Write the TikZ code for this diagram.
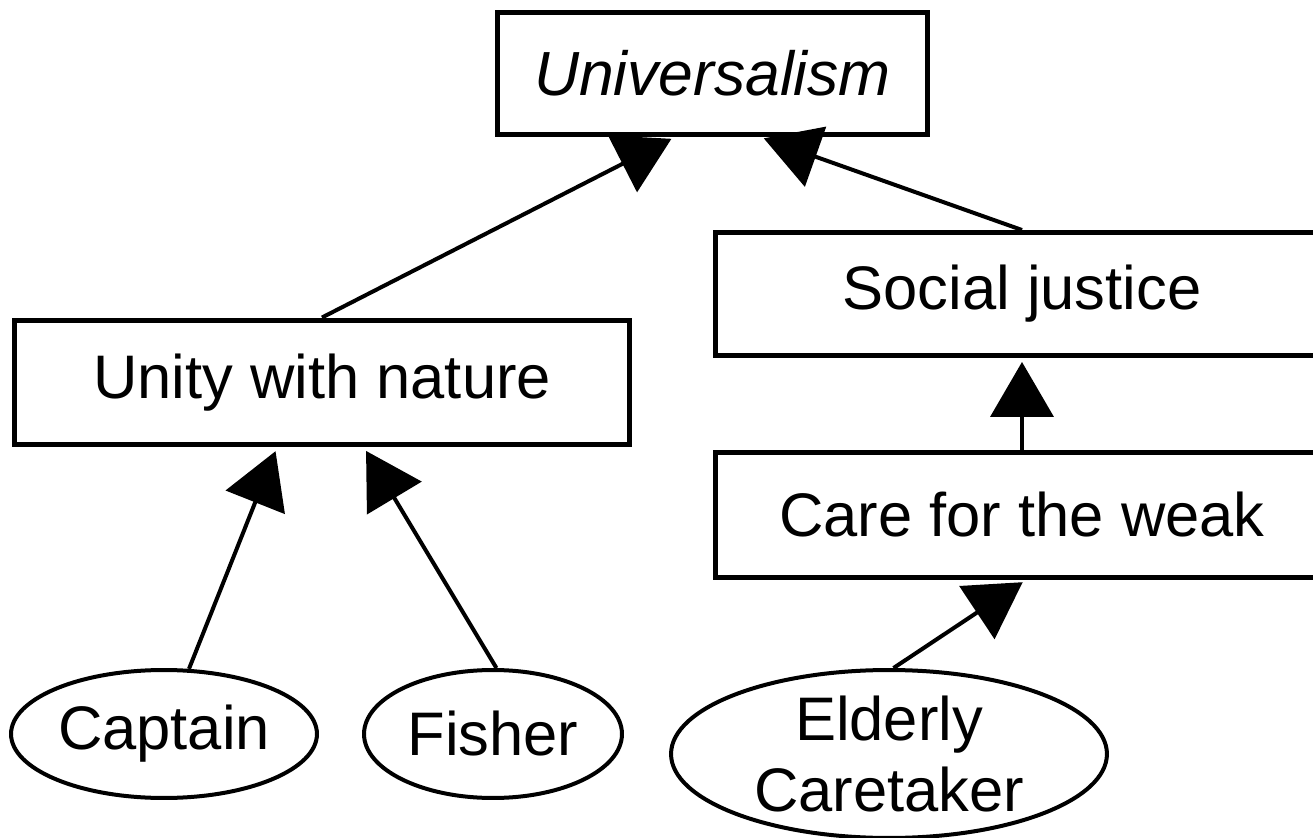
\documentclass[tikz,border=0pt]{standalone}
\usepackage{fontspec}
\setmainfont{Liberation Sans}
\usetikzlibrary{arrows.meta,shapes.geometric}
\begin{document}
\begin{tikzpicture}[x=0.02cm, y=-0.02cm,
  box/.style={draw, rectangle, line width=0.1cm, inner sep=0pt,
    font=\fontsize{35}{40}\selectfont},
  role/.style={draw, ellipse, line width=0.08cm, inner sep=0pt, align=center,
    font=\fontsize{35}{40}\selectfont},
  link/.style={line width=0.08cm, -{Triangle[length=1.1cm,width=1.26cm]},
    shorten >=0.08cm}]
\useasboundingbox (0,0) rectangle (1313,838);

% value boxes
\node[box, minimum width=8.6cm, minimum height=2.44cm,
  font=\fontsize{35.5}{40}\selectfont\itshape] (univ) at (712.5,73.5) {Universalism};
\node[box, minimum width=12.3cm, minimum height=2.5cm] (unity) at (322,382.5) {Unity with nature};
\node[box, minimum width=12.26cm, minimum height=2.46cm] (soc) at (1022,294) {Social justice};
\node[box, minimum width=12.26cm, minimum height=2.5cm] (care) at (1022,515) {Care for the weak};

% roles
\node[role, minimum width=6.12cm, minimum height=2.56cm] (cap) at (164,734) {Captain};
\node[role, minimum width=5.16cm, minimum height=2.56cm] (fish) at (493,734) {Fisher};
\node[role, minimum width=8.72cm, minimum height=3.36cm] (eld) at (889,754) {Elderly\\Caretaker};

% links
\draw[link] (unity.north) -- ([xshift=-0.75cm]univ.south);
\draw[link] (soc.north) -- ([xshift=0.95cm]univ.south);
\draw[link] (cap.69) -- ([xshift=-0.9cm]unity.south);
\draw[link] (fish.87) -- ([xshift=0.84cm]unity.south);
\draw[link] (care.north) -- (soc.south);
\draw[link] (eld.87) -- ([xshift=0.08cm]care.south);
\end{tikzpicture}
\end{document}
